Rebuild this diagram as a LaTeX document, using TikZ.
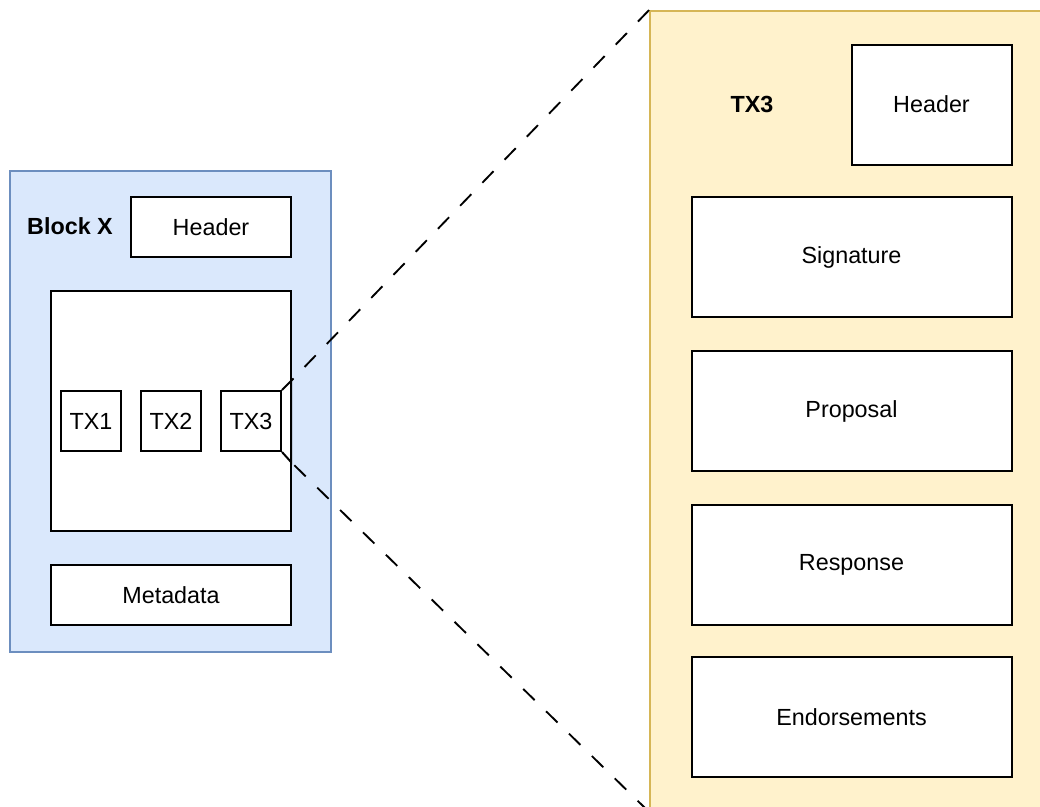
\documentclass[tikz,border=0pt]{standalone}
\usepackage{fontspec}
\setmainfont{Liberation Sans}
\definecolor{blockfill}{HTML}{DAE8FC}
\definecolor{blockline}{HTML}{6C8EBF}
\definecolor{txfill}{HTML}{FFF2CC}
\definecolor{txline}{HTML}{D6B656}
\tikzset{
  boxsize/.style 2 args={minimum width=#1*0.75pt, minimum height=#2*0.75pt},
  basefont/.style={font=\fontsize{17.5}{21}\selectfont},
  field/.style={draw=black, fill=white, line width=1.5pt, inner sep=0pt, basefont},
  blockpanel/.style={draw=blockline, fill=blockfill, line width=1.4pt, inner sep=0pt},
  txpanel/.style={draw=txline, fill=txfill, line width=1.4pt, inner sep=0pt},
  title/.style={inner sep=0pt, font=\fontsize{17.5}{21}\selectfont\bfseries},
  zoomline/.style={draw=black, line width=1.4pt, dash pattern=on 12pt off 12pt},
  zoomedge/.style={draw=black, line width=1.5pt, line join=miter},
}
\begin{document}
\begin{tikzpicture}[x=0.75pt, y=-0.75pt]
  \clip (0,0) rectangle (1040,807);

  % block panel on the left
  \node[blockpanel, boxsize={321}{481}] (block) at (170.5,411.5) {};
  \node[title] (blocklabel) at (70,226) {Block X};
  \node[field, boxsize={160}{60}] (blockhdr) at (211,227) {Header};
  \node[field, boxsize={240}{240}] (body) at (171,411) {};
  \node[field, boxsize={60}{60}] (tx1) at (91,421) {TX1};
  \node[field, boxsize={60}{60}] (tx2) at (171,421) {TX2};
  \node[field, boxsize={60}{60}] (tx3) at (251,421) {TX3};
  \node[field, boxsize={240}{60}] (meta) at (171,595) {Metadata};

  % expanded transaction panel on the right
  \node[txpanel, boxsize={400}{800}] (txpanel) at (850,411) {};
  \node[title] (txlabel) at (752,104) {TX3};
  \node[field, boxsize={160}{120}] (txhdr) at (931.5,104.5) {Header};
  \node[field, boxsize={320}{120}] (sig) at (851.5,257) {Signature};
  \node[field, boxsize={320}{120}] (prop) at (851.5,411) {Proposal};
  \node[field, boxsize={320}{120}] (resp) at (851.5,565) {Response};
  \node[field, boxsize={320}{120}] (endo) at (851.5,717) {Endorsements};

  % flare from TX3 to the body edge
  \coordinate (zt) at (291,381);
  \coordinate (zb) at (291,462);
  \draw[zoomedge] (tx3.north east) -- (zt) -- (zb) -- (tx3.south east);

  % zoom guide lines
  \draw[zoomline] (txpanel.north west) -- (zt);
  \draw[zoomline] (txpanel.south west) -- (zb);
\end{tikzpicture}
\end{document}
